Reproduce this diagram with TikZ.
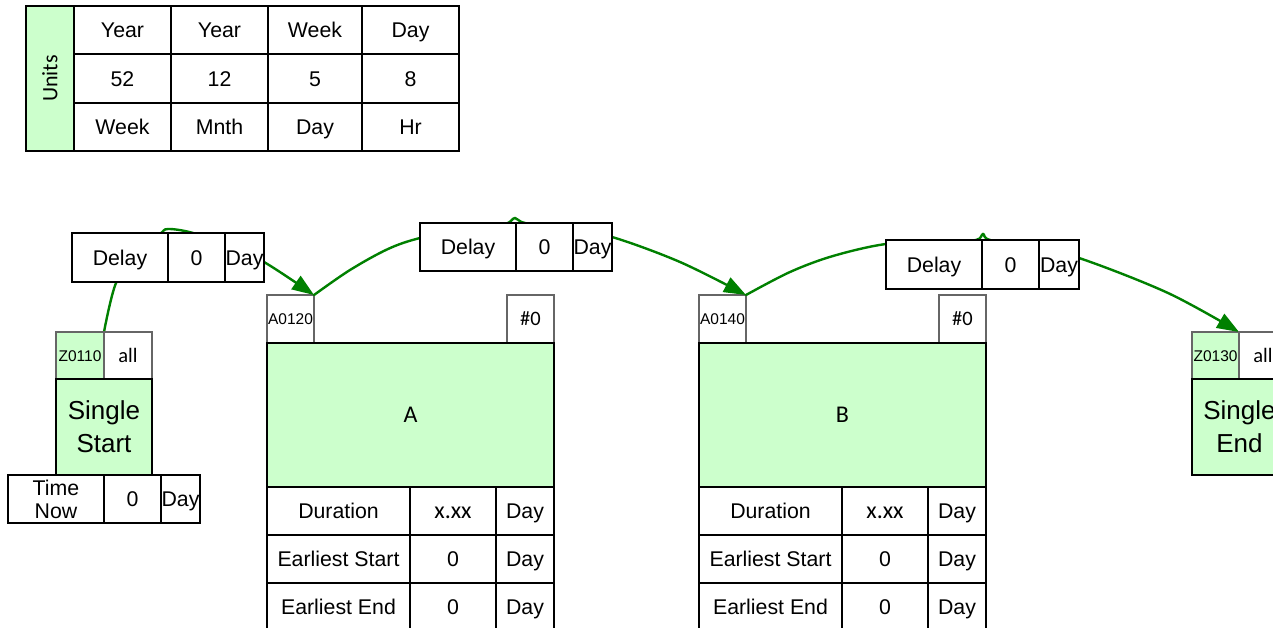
\documentclass[tikz,border=0pt]{standalone}
\usepackage{fontspec}
\setmainfont{Liberation Sans}
\newfontfamily\calfont{Carlito}
\usetikzlibrary{arrows.meta}
\definecolor{lgreen}{HTML}{CCFFCC}
\definecolor{cgreen}{HTML}{008000}
\newcommand\txtsz{\fontsize{21.3}{23}\selectfont}
\newcommand\bigsz{\fontsize{26}{33}\selectfont}
\newcommand\tagsz{\fontsize{15.5}{18}\selectfont}
\newcommand\calunits{\calfont\fontsize{22}{26}\selectfont}
\newcommand\calsz{\calfont\fontsize{24}{28}\selectfont}
\newcommand\calsmall{\calfont\fontsize{20.5}{24}\selectfont}
% \cell{name}{x1}{y1}{x2}{y2}{style}{text}: box with its top left corner at (x1,y1)
\newcommand\cell[7]{%
  \pgfmathsetmacro\cw{#4-#2}\pgfmathsetmacro\ch{#5-#3}%
  \node[#6, minimum width=\cw pt, minimum height=\ch pt] (#1) at (#2,#3) {#7};}
\begin{document}
\begin{tikzpicture}[x=1pt,y=-1pt,
  cellbase/.style={draw=black, line width=1.6pt, fill=white, anchor=north west,
    inner sep=0pt, outer sep=0pt, align=center, font=\txtsz},
  box/.style={cellbase, text height=15.2pt, text depth=0pt},
  mbox/.style={cellbase},
  gbox/.style={box, fill=lgreen},
  gmbox/.style={mbox, fill=lgreen, font=\bigsz},
  calbox/.style={box, font=\calsz, text height=15.5pt},
  tagbox/.style={box, draw=black!60, line width=1.1pt, font=\tagsz, text height=11.1pt},
  caltag/.style={tagbox, font=\calsmall, text height=13.2pt},
  gtag/.style={tagbox, fill=lgreen},
  conn/.style={draw=cgreen, line width=2.4pt, line cap=round,
    -{Triangle[length=22pt,width=16pt]}}]
\useasboundingbox (0,0) rectangle (1273,628);

% ---- units table
\cell{units}{26}{6}{74}{151}{mbox, fill=lgreen, font=\calunits}{\rotatebox{90}{Units}}
\cell{u11}{74}{6}{171}{54}{box}{Year}
\cell{u12}{171}{6}{268}{54}{box}{Year}
\cell{u13}{268}{6}{362}{54}{box}{Week}
\cell{u14}{362}{6}{459}{54}{box}{Day}
\cell{u21}{74}{54}{171}{103}{box}{52}
\cell{u22}{171}{54}{268}{103}{box}{12}
\cell{u23}{268}{54}{362}{103}{box}{5}
\cell{u24}{362}{54}{459}{103}{box}{8}
\cell{u31}{74}{103}{171}{151}{box}{Week}
\cell{u32}{171}{103}{268}{151}{box}{Mnth}
\cell{u33}{268}{103}{362}{151}{box}{Day}
\cell{u34}{362}{103}{459}{151}{box}{Hr}

% ---- anchor cells the connectors run between
\cell{z0110}{56}{332}{104}{379}{gtag}{Z0110}
\cell{a0120}{267}{295}{314}{343}{tagbox}{A0120}
\cell{a0140}{699}{295}{746}{343}{tagbox}{A0140}
\cell{z0130}{1192}{332}{1239}{379}{gtag}{Z0130}

% ---- connectors (drawn under the delay boxes)
\draw[conn] plot[smooth, tension=0.55] coordinates {(z0110.north east) (116,283) (138,250) (160,234) (168,229) (193,233) (230,247) (264,262) (a0120.north east)};
\draw[conn] plot[smooth, tension=0.55] coordinates {(a0120.north east) (350,270) (388,249) (420,238) (470,228) (505,224) (515,218) (525,223) (570,230) (612,237) (680,262) (a0140.north east)};
\draw[conn] plot[smooth, tension=0.55] coordinates {(a0140.north east) (790,272) (833,256) (886,244) (940,242) (976,240) (983,234) (990,240) (1035,249) (1079,258) (1168,293) (z0130.north east)};

% ---- delay boxes
\cell{d1a}{72}{233}{168}{282}{box}{Delay}
\cell{d1b}{168}{233}{225}{282}{box}{0}
\cell{d1c}{225}{233}{264}{282}{box}{Day}
\cell{d2a}{420}{223}{516}{271}{box}{Delay}
\cell{d2b}{516}{223}{573}{271}{box}{0}
\cell{d2c}{573}{223}{612}{271}{box}{Day}
\cell{d3a}{886}{240}{982}{289}{box}{Delay}
\cell{d3b}{982}{240}{1039}{289}{box}{0}
\cell{d3c}{1039}{240}{1079}{289}{box}{Day}

% ---- single start
\cell{sall}{104}{332}{152}{379}{caltag}{all}
\cell{sstart}{56}{379}{152}{475}{gmbox}{Single\\Start}
\cell{tn1}{8}{475}{104}{523}{mbox}{Time\\Now}
\cell{tn2}{104}{475}{161}{523}{box}{0}
\cell{tn3}{161}{475}{200}{523}{box}{Day}

% ---- activity A
\cell{ahash}{507}{295}{554}{343}{caltag}{\#0}
\cell{amain}{267}{343}{554}{487}{calbox, fill=lgreen}{A}
\cell{ar1a}{267}{487}{410}{535}{box}{Duration}
\cell{ar1b}{410}{487}{496}{535}{calbox}{x.xx}
\cell{ar1c}{496}{487}{554}{535}{box}{Day}
\cell{ar2a}{267}{535}{410}{583}{box}{Earliest Start}
\cell{ar2b}{410}{535}{496}{583}{box}{0}
\cell{ar2c}{496}{535}{554}{583}{box}{Day}
\cell{ar3a}{267}{583}{410}{631}{box}{Earliest End}
\cell{ar3b}{410}{583}{496}{631}{box}{0}
\cell{ar3c}{496}{583}{554}{631}{box}{Day}

% ---- activity B
\cell{bhash}{939}{295}{986}{343}{caltag}{\#0}
\cell{bmain}{699}{343}{986}{487}{calbox, fill=lgreen}{B}
\cell{br1a}{699}{487}{842}{535}{box}{Duration}
\cell{br1b}{842}{487}{928}{535}{calbox}{x.xx}
\cell{br1c}{928}{487}{986}{535}{box}{Day}
\cell{br2a}{699}{535}{842}{583}{box}{Earliest Start}
\cell{br2b}{842}{535}{928}{583}{box}{0}
\cell{br2c}{928}{535}{986}{583}{box}{Day}
\cell{br3a}{699}{583}{842}{631}{box}{Earliest End}
\cell{br3b}{842}{583}{928}{631}{box}{0}
\cell{br3c}{928}{583}{986}{631}{box}{Day}

% ---- single end
\cell{eall}{1239}{332}{1287}{379}{caltag}{all}
\cell{eend}{1192}{379}{1287}{475}{gmbox}{Single\\End}
\end{tikzpicture}
\end{document}
